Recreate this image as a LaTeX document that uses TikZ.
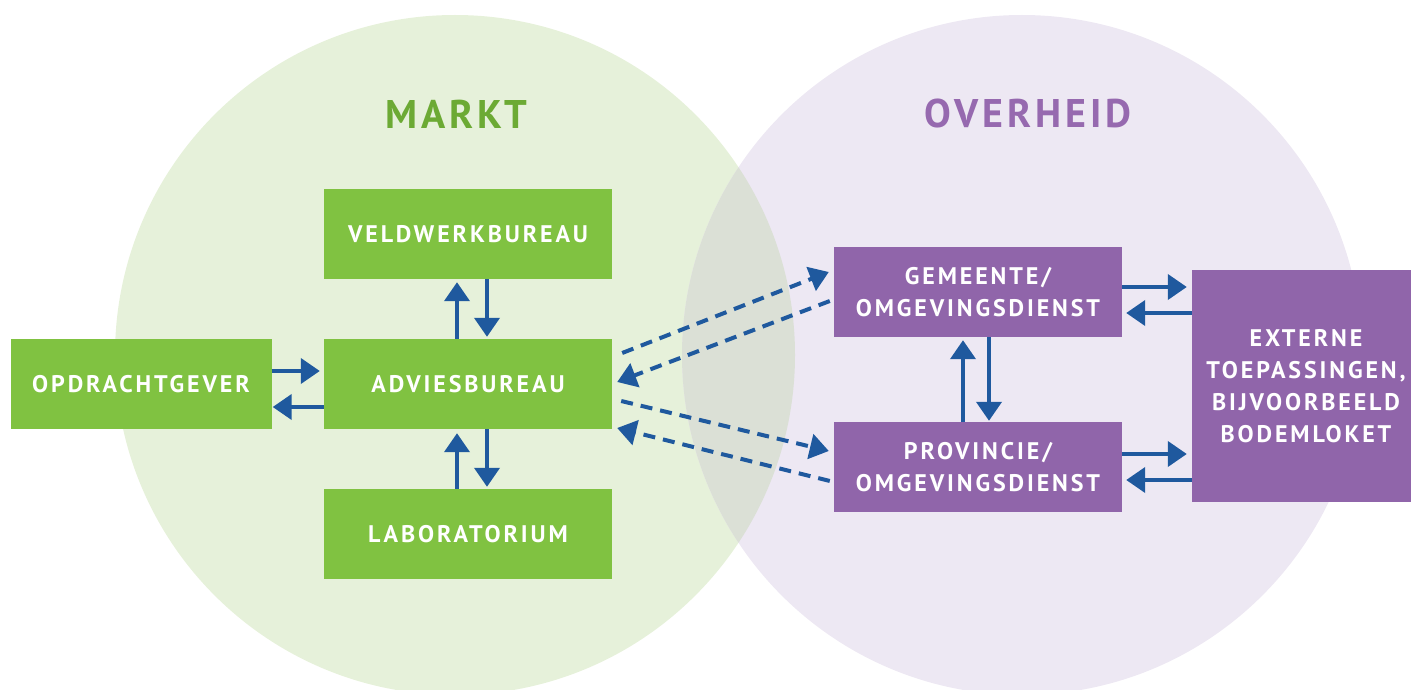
\documentclass[tikz,border=0pt]{standalone}
\usepackage{fontspec}
\setmainfont{PT Sans}
\newfontfamily\boxfont[LetterSpace=12]{PT Sans}
\newfontfamily\titlefont[LetterSpace=10]{PT Sans}
\usetikzlibrary{arrows.meta}

\definecolor{marktgreen}{RGB}{128,194,65}
\definecolor{markttitle}{RGB}{108,170,52}
\definecolor{marktfill}{RGB}{230,241,218}
\definecolor{overpurple}{RGB}{144,101,170}
\definecolor{overtitle}{RGB}{150,105,175}
\definecolor{overfill}{RGB}{237,232,243}
\definecolor{lensfill}{RGB}{219,224,214}
\definecolor{linkblue}{RGB}{31,89,158}

\tikzset{
  box/.style={text=white, inner sep=0pt, align=center,
    font=\boxfont\bfseries\fontsize{24}{32}\selectfont},
  greenbox/.style={box, fill=marktgreen, minimum width=288pt, minimum height=90pt},
  purplebox/.style={box, fill=overpurple, minimum width=288pt, minimum height=90pt},
  title/.style={font=\titlefont\bfseries\fontsize{40}{40}\selectfont},
  link/.style={draw=linkblue, line width=4pt,
    -{Triangle[length=19pt,width=25pt]}, shorten >=2pt},
  dashlink/.style={link, dash pattern=on 12pt off 8pt, shorten >=0pt}
}

\begin{document}
\begin{tikzpicture}[x=1pt,y=-1pt]
\useasboundingbox (0,0) rectangle (1411,690);

% the two circles and their overlap
\fill[marktfill] (455,355) circle [radius=340pt];
\fill[overfill] (1022,355) circle [radius=340pt];
\begin{scope}
\clip (455,355) circle [radius=340pt];
\fill[lensfill] (1022,355) circle [radius=340pt];
\end{scope}

\node[title, text=markttitle] (markt) at (456,114) {MARKT};
\node[title, text=overtitle] (overheid) at (1028,114) {OVERHEID};

% markt
\node[greenbox] (veld) at (468,234) {VELDWERKBUREAU};
\node[greenbox] (advies) at (468,384) {ADVIESBUREAU};
\node[greenbox] (lab) at (468,534) {LABORATORIUM};
\node[greenbox, minimum width=261pt] (opdracht) at (141,384) {OPDRACHTGEVER};

% overheid
\node[purplebox] (gemeente) at (978,292) {GEMEENTE/\\OMGEVINGSDIENST};
\node[purplebox] (provincie) at (978,467) {PROVINCIE/\\OMGEVINGSDIENST};
\node[purplebox, minimum width=228pt, minimum height=232pt] (extern) at (1306,386)
  {EXTERNE\\TOEPASSINGEN,\\BIJVOORBEELD\\BODEMLOKET};

% links within markt
\draw[link, shorten >=3pt] ([xshift=-11pt]advies.north) -- ([xshift=-11pt]veld.south);
\draw[link] ([xshift=19pt]veld.south) -- ([xshift=19pt]advies.north);
\draw[link, shorten >=4pt] ([xshift=-11pt]lab.north) -- ([xshift=-11pt]advies.south);
\draw[link] ([xshift=19pt]advies.south) -- ([xshift=19pt]lab.north);
\draw[link, shorten >=4pt] ([yshift=13pt]opdracht.east) -- ([yshift=13pt]opdracht.east -| advies.west);
\draw[link, shorten >=1pt] ([yshift=-23pt]opdracht.east -| advies.west) -- ([yshift=-23pt]opdracht.east);

% links between markt and overheid
\draw[dashlink] ([shift={(10,-31)}]advies.east) -- ([shift={(-5,-20)}]gemeente.west);
\draw[dashlink] ([shift={(-4,9)}]gemeente.west) -- ([shift={(5,-2)}]advies.east);
\draw[dashlink] ([shift={(9,17)}]advies.east) -- ([shift={(-5,-16)}]provincie.west);
\draw[dashlink] ([shift={(-4,14)}]provincie.west) -- ([shift={(5,44)}]advies.east);

% links within overheid
\draw[link, shorten >=3pt] ([xshift=-15pt]provincie.north) -- ([xshift=-15pt]gemeente.south);
\draw[link, shorten >=1pt] ([xshift=11pt]gemeente.south) -- ([xshift=11pt]provincie.north);
\draw[link, shorten >=5pt] ([yshift=5pt]gemeente.east) -- ([yshift=5pt]gemeente.east -| extern.west);
\draw[link, shorten >=4pt] ([yshift=-21pt]gemeente.east -| extern.west) -- ([yshift=-21pt]gemeente.east);
\draw[link, shorten >=5pt] ([yshift=13pt]provincie.east) -- ([yshift=13pt]provincie.east -| extern.west);
\draw[link, shorten >=4pt] ([yshift=-13pt]provincie.east -| extern.west) -- ([yshift=-13pt]provincie.east);
\end{tikzpicture}
\end{document}
